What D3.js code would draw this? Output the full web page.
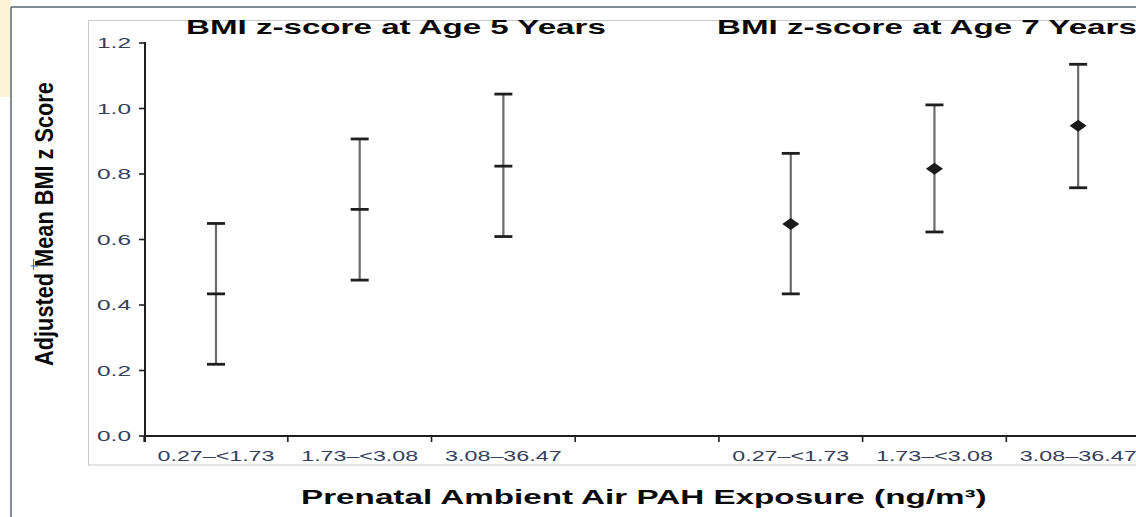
<!DOCTYPE html>
<html>
<head>
<meta charset="utf-8">
<script src="https://cdn.jsdelivr.net/npm/d3@7"></script>
<style>
  html, body { margin: 0; padding: 0; background: #ffffff; }
  svg { display: block; }
  text { font-family: "Liberation Sans", Arial, sans-serif; }
</style>
</head>
<body>
<svg id="chart" width="1136" height="517"></svg>
<script>
// Exposure categories (ng/m³) shared by both panels
const categories = ["0.27–<1.73", "1.73–<3.08", "3.08–36.47"];

// Age 5: adjusted mean BMI z-score with 95% CI
const age5Mean  = [0.434, 0.692, 0.824];
const age5Lower = [0.219, 0.476, 0.609];
const age5Upper = [0.649, 0.907, 1.044];

// Age 7: adjusted mean BMI z-score with 95% CI
const age7Mean  = [0.647, 0.816, 0.947];
const age7Lower = [0.434, 0.623, 0.758];
const age7Upper = [0.863, 1.011, 1.135];

const yTicks = [0.0, 0.2, 0.4, 0.6, 0.8, 1.0, 1.2];
const panelTitles = ["BMI z-score at Age 5 Years", "BMI z-score at Age 7 Years"];
const yTitle = "Adjusted Mean BMI z Score";
const xTitle = "Prenatal Ambient Air PAH Exposure (ng/m³)";

// Slots along the x axis: three per panel with an empty slot between panels
const slots = ["a5-0", "a5-1", "a5-2", "gap", "a7-0", "a7-1", "a7-2"];

const rows = [];
categories.forEach((c, i) => {
  rows.push({ panel: 0, slot: "a5-" + i, cat: c, mean: age5Mean[i], lo: age5Lower[i], hi: age5Upper[i] });
});
categories.forEach((c, i) => {
  rows.push({ panel: 1, slot: "a7-" + i, cat: c, mean: age7Mean[i], lo: age7Lower[i], hi: age7Upper[i] });
});

const svg = d3.select("#chart");

const x = d3.scaleBand().domain(slots).range([144.15, 1150]).paddingInner(0).paddingOuter(0);
const y = d3.scaleLinear().domain([0, 1.2]).range([436, 43]);

// Text helper: sets glyph height by font size and run length by a horizontal stretch
function stretchedText(parent, str, opt) {
  const t = parent.append("text")
    .text(str)
    .attr("x", 0).attr("y", 0)
    .attr("font-size", opt.size)
    .attr("font-weight", opt.weight || "normal")
    .attr("fill", opt.fill || "#111")
    .attr("text-anchor", opt.anchor || "start");
  const nat = t.node().getComputedTextLength();
  const s = opt.width / nat;
  t.attr("transform", `translate(${opt.x},${opt.y})` + (opt.rotate ? " rotate(-90)" : "") + ` scale(${s},1)`);
  return t;
}

// Slide frame decorations
svg.append("rect").attr("x", 0).attr("y", 0).attr("width", 11).attr("height", 97).attr("fill", "#fdf3d9");
svg.append("line").attr("x1", 11).attr("x2", 1136).attr("y1", 7).attr("y2", 7)
  .attr("stroke", "#5b6475").attr("stroke-width", 1.5);
svg.append("line").attr("x1", 11).attr("x2", 11).attr("y1", 7).attr("y2", 517)
  .attr("stroke", "#5b6475").attr("stroke-width", 1.5);

// Figure border
svg.append("rect").attr("x", 88.5).attr("y", 20.5).attr("width", 1100).attr("height", 444.5)
  .attr("fill", "none").attr("stroke", "#c9c9c9").attr("stroke-width", 1);

// Panel titles
stretchedText(svg, panelTitles[0], { x: 186, y: 34, size: 20, weight: "bold", width: 420, fill: "#0a0a0a" });
stretchedText(svg, panelTitles[1], { x: 717, y: 34, size: 20, weight: "bold", width: 420, fill: "#0a0a0a" });

// Y axis
const axisColor = "#1f1f1f";
const labelColor = "#34405a";
const gY = svg.append("g");
gY.append("line").attr("x1", 145).attr("x2", 145).attr("y1", y(1.2) - 1).attr("y2", y(0) + 6)
  .attr("stroke", axisColor).attr("stroke-width", 2);
yTicks.forEach(v => {
  gY.append("line").attr("x1", 139).attr("x2", 145).attr("y1", y(v)).attr("y2", y(v))
    .attr("stroke", axisColor).attr("stroke-width", 1.6);
  stretchedText(gY, v.toFixed(1), { x: 131, y: y(v) + 5.4, size: 15, width: 34, anchor: "end", fill: labelColor });
});

// X axis
const gX = svg.append("g");
gX.append("line").attr("x1", 144).attr("x2", 1136).attr("y1", y(0)).attr("y2", y(0))
  .attr("stroke", axisColor).attr("stroke-width", 2);
slots.forEach(s => {
  const bx = x(s);
  gX.append("line").attr("x1", bx).attr("x2", bx).attr("y1", y(0)).attr("y2", y(0) + 6)
    .attr("stroke", axisColor).attr("stroke-width", 1.6);
});
rows.forEach(r => {
  stretchedText(gX, r.cat, { x: x(r.slot) + x.bandwidth() / 2, y: 460.5, size: 15.5, width: 117, anchor: "middle", fill: labelColor });
});

// Axis titles
stretchedText(svg, yTitle, { x: 53, y: 224, size: 26, weight: "bold", width: 284, anchor: "middle", rotate: true, fill: "#0a0a0a" });
stretchedText(svg, xTitle, { x: 301, y: 504, size: 20, weight: "bold", width: 686, fill: "#0a0a0a" });

// Small blue mark beside the y title
svg.append("line").attr("x1", 31).attr("x2", 38).attr("y1", 266).attr("y2", 266)
  .attr("stroke", "#3d6fd6").attr("stroke-width", 1.2);
svg.append("line").attr("x1", 33.5).attr("x2", 33.5).attr("y1", 259).attr("y2", 270)
  .attr("stroke", "#3d6fd6").attr("stroke-width", 1);

// Error bars
const capHalf = 9;
const bars = svg.append("g");
rows.forEach(r => {
  const cx = x(r.slot) + x.bandwidth() / 2;
  bars.append("line").attr("x1", cx).attr("x2", cx).attr("y1", y(r.hi)).attr("y2", y(r.lo))
    .attr("stroke", "#6b6b6b").attr("stroke-width", 2.2);
  [r.hi, r.lo].forEach(v => {
    bars.append("line").attr("x1", cx - capHalf).attr("x2", cx + capHalf).attr("y1", y(v)).attr("y2", y(v))
      .attr("stroke", "#1e1e1e").attr("stroke-width", 2.8);
  });
  if (r.panel === 0) {
    // mean drawn as a crossbar
    bars.append("line").attr("x1", cx - capHalf).attr("x2", cx + capHalf).attr("y1", y(r.mean)).attr("y2", y(r.mean))
      .attr("stroke", "#1e1e1e").attr("stroke-width", 2.8);
  } else {
    // mean drawn as a diamond
    const my = y(r.mean);
    bars.append("path")
      .attr("d", `M${cx - 8.5},${my} L${cx},${my - 6} L${cx + 8.5},${my} L${cx},${my + 6} Z`)
      .attr("fill", "#1a1a1a");
  }
});
</script>
</body>
</html>
